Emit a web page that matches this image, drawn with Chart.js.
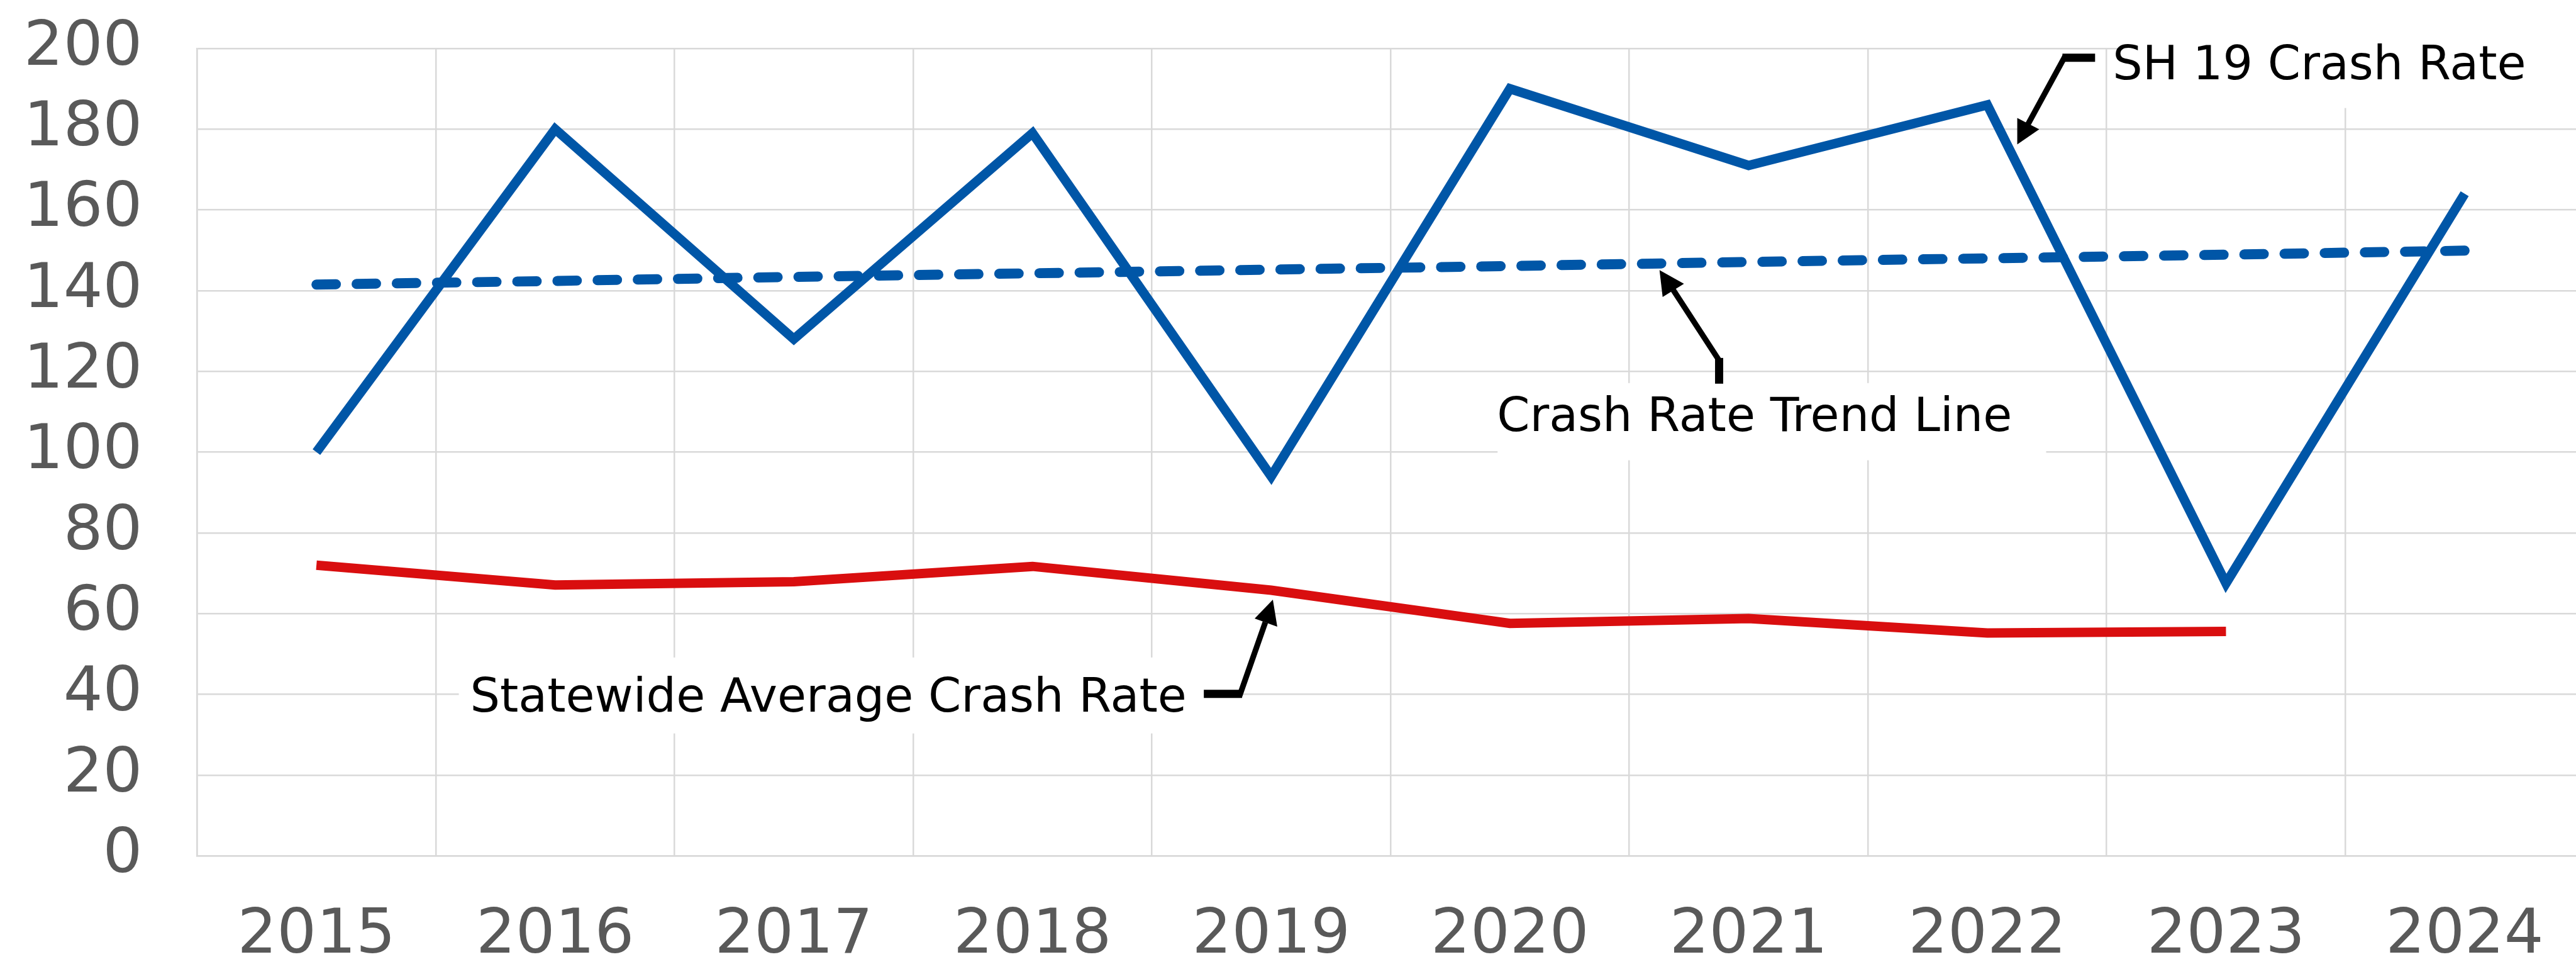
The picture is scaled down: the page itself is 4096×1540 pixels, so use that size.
<!DOCTYPE html>
<html>
<head>
    <title>SH 19 Crash Rate</title>
    <script src="https://cdn.jsdelivr.net/npm/chart.js"></script>
    <style>
        html, body { margin: 0; padding: 0; overflow: hidden; background: #ffffff; }
        canvas { display: block; }
    </style>
</head>
<body>
    <canvas id="crashChart" width="4140" height="1540"></canvas>
    <script>
    // reference -> window scale
    const S = 0.998;
    const canvasW = 4140;

    // chart data
    const years = ['2015', '2016', '2017', '2018', '2019', '2020', '2021', '2022', '2023', '2024'];
    const sh19Rate = [100, 180, 128, 179, 94, 190, 171, 186, 67.5, 164];
    const statewideRate = [72, 67.1, 67.9, 71.7, 65.8, 57.6, 58.8, 55.2, 55.6, null];
    const trendRate = [141.5, 142.4, 143.4, 144.3, 145.2, 146.1, 147.1, 148.0, 148.9, 149.9];
    const yTickValues = [0, 20, 40, 60, 80, 100, 120, 140, 160, 180, 200];

    const blue = '#0056a7';
    const red = '#d90e0f';
    const gridGrey = '#d9d9d9';
    const tickGrey = '#595959';

    // callout labels, in reference pixels
    const callouts = [
        {
            text: 'SH 19 Crash Rate',
            textX: 3366, textY: 126,
            box: [3373, 10, 4140, 172],
            stub: [[3338, 92], [3286, 92]],
            lead: [[3291, 88], [3231, 198]],
            head: [[3214, 230], [3214, 188], [3249, 206]]
        },
        {
            text: 'Crash Rate Trend Line',
            textX: 2385, textY: 686,
            box: [2386, 610, 3260, 733],
            stub: [[2739, 611], [2739, 570]],
            lead: [[2739, 574], [2666, 462]],
            head: [[2644, 430], [2649, 473], [2683, 452]]
        },
        {
            text: 'Statewide Average Crash Rate',
            textX: 749, textY: 1133,
            box: [731, 1047, 1918, 1168],
            stub: [[1918, 1105], [1979, 1105]],
            lead: [[1975, 1108], [2016, 991]],
            head: [[2028, 955], [1999, 985], [2035, 998]]
        }
    ];

    function pathLine(ctx, pts) {
        ctx.beginPath();
        ctx.moveTo(pts[0][0] * S, pts[0][1] * S);
        for (let i = 1; i < pts.length; i++) ctx.lineTo(pts[i][0] * S, pts[i][1] * S);
    }

    const calloutPlugin = {
        id: 'callouts',
        beforeDatasetsDraw(chart) {
            const ctx = chart.ctx;
            ctx.save();
            ctx.fillStyle = '#ffffff';
            callouts.forEach(c => {
                const b = c.box;
                ctx.fillRect(b[0] * S, b[1] * S, (b[2] - b[0]) * S, (b[3] - b[1]) * S);
            });
            ctx.restore();
        },
        afterDatasetsDraw(chart) {
            const ctx = chart.ctx;
            ctx.save();
            ctx.fillStyle = '#000000';
            ctx.strokeStyle = '#000000';
            ctx.font = (75 * S) + 'px "DejaVu Sans"';
            ctx.textAlign = 'left';
            ctx.textBaseline = 'alphabetic';
            callouts.forEach(c => {
                ctx.fillText(c.text, c.textX * S, c.textY * S);

                ctx.lineCap = 'butt';
                ctx.lineJoin = 'miter';
                ctx.lineWidth = 13 * S;
                pathLine(ctx, c.stub);
                ctx.stroke();

                ctx.lineWidth = 9 * S;
                pathLine(ctx, c.lead);
                ctx.stroke();

                pathLine(ctx, c.head);
                ctx.closePath();
                ctx.fill();
            });
            ctx.restore();
        }
    };

    // keep tick padding from pushing the plot area around
    function noEdgePadding(scale) {
        scale.paddingTop = 0;
        scale.paddingBottom = 0;
        scale.paddingLeft = 0;
        scale.paddingRight = 0;
    }

    const tickFont = { family: '"DejaVu Sans"', size: 99 * S, lineHeight: 1 };

    const ctx = document.getElementById('crashChart').getContext('2d');
    const crashChart = new Chart(ctx, {
        type: 'line',
        data: {
            labels: years,
            datasets: [
                {
                    label: 'SH 19 Crash Rate',
                    data: sh19Rate,
                    borderColor: blue,
                    borderWidth: 15 * S,
                    borderJoinStyle: 'miter',
                    pointRadius: 0,
                    tension: 0
                },
                {
                    label: 'Crash Rate Trend Line',
                    data: trendRate,
                    borderColor: blue,
                    borderWidth: 16 * S,
                    borderDash: [31 * S, 33 * S],
                    borderCapStyle: 'round',
                    pointRadius: 0,
                    tension: 0
                },
                {
                    label: 'Statewide Average Crash Rate',
                    data: statewideRate,
                    borderColor: red,
                    borderWidth: 15 * S,
                    borderJoinStyle: 'miter',
                    pointRadius: 0,
                    tension: 0
                }
            ]
        },
        options: {
            responsive: false,
            animation: false,
            devicePixelRatio: 1,
            layout: {
                padding: { top: 77 * S, right: canvasW - 4117 * S, left: 0, bottom: 0 }
            },
            plugins: {
                legend: { display: false },
                tooltip: { enabled: false }
            },
            scales: {
                x: {
                    offset: true,
                    grid: { offset: true, color: gridGrey, lineWidth: 2.5, drawTicks: false },
                    border: { color: gridGrey, width: 2.5 },
                    ticks: { font: tickFont, color: tickGrey, padding: 79, maxRotation: 0, autoSkip: false },
                    afterFit: scale => {
                        noEdgePadding(scale);
                        scale.height = 1540 - 1363 * S;
                    }
                },
                y: {
                    min: 0,
                    max: 200,
                    grid: { color: gridGrey, lineWidth: 2.5, drawTicks: false },
                    border: { color: gridGrey, width: 2.5 },
                    ticks: { font: tickFont, color: tickGrey, padding: 87 },
                    afterBuildTicks: scale => { scale.ticks = yTickValues.map(v => ({ value: v })); },
                    afterFit: scale => {
                        noEdgePadding(scale);
                        scale.width = 314 * S;
                    }
                }
            }
        },
        plugins: [calloutPlugin]
    });
    </script>
</body>
</html>
